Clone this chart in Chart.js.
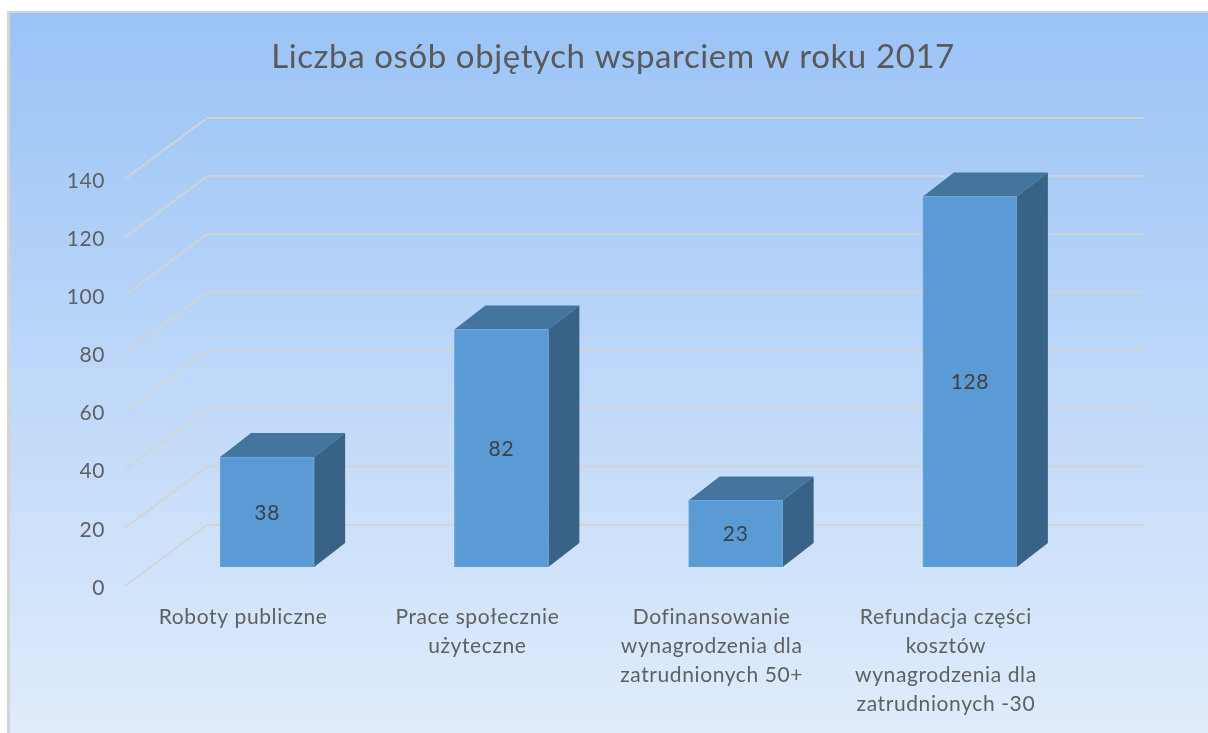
<!DOCTYPE html>
<html>
<head>
<meta charset="utf-8">
<style>html,body{margin:0;padding:0;background:#fff;overflow:hidden}canvas{display:block}</style>
<script src="https://cdn.jsdelivr.net/npm/chart.js@4"></script>
</head>
<body>
<div style="width:1208px;height:733px;position:relative"><canvas id="c"></canvas></div>
<script>
const titleText = 'Liczba osób objętych wsparciem w roku 2017';
const categories = [
  ['Roboty publiczne'],
  ['Prace społecznie', 'użyteczne'],
  ['Dofinansowanie', 'wynagrodzenia dla', 'zatrudnionych 50+'],
  ['Refundacja części', 'kosztów', 'wynagrodzenia dla', 'zatrudnionych -30']
];
const values = [38, 82, 23, 128];
const FONT = 'Lato';
const SPACING = '0.6px';
const depthX = 31, depthY = -24, wallX = 81, wallY = -61;

const scene = {
  id: 'scene',
  beforeLayout(chart) { chart.ctx.letterSpacing = SPACING; },
  beforeDraw(chart) {
    const { ctx, width, height } = chart;
    ctx.save();
    ctx.fillStyle = '#fff';
    ctx.fillRect(0, 0, width, height);
    ctx.fillStyle = '#d4d4d4';
    ctx.fillRect(7, 11, width - 7, height - 11);
    const g = ctx.createLinearGradient(0, 13, 0, height);
    g.addColorStop(0, '#9ac3f6');
    g.addColorStop(1, '#e0ecfb');
    ctx.fillStyle = g;
    ctx.fillRect(10, 13, width - 10, height - 13);
    ctx.restore();
    ctx.letterSpacing = SPACING;
  },
  beforeDatasetsDraw(chart) {
    const { ctx } = chart;
    const y = chart.scales.y, left = chart.chartArea.left;
    ctx.save();
    ctx.strokeStyle = 'rgba(212,212,212,0.92)';
    ctx.lineWidth = 2;
    y.ticks.forEach(t => {
      const py = y.getPixelForValue(t.value);
      ctx.beginPath();
      ctx.moveTo(left - 1, py);
      ctx.lineTo(left + wallX, py + wallY);
      ctx.lineTo(1144, py + wallY);
      ctx.stroke();
    });
    chart.getDatasetMeta(0).data.forEach(b => {
      const l = b.x - b.width / 2, r = b.x + b.width / 2;
      ctx.fillStyle = '#44759f';
      ctx.beginPath();
      ctx.moveTo(l, b.y);
      ctx.lineTo(l + depthX, b.y + depthY);
      ctx.lineTo(r + depthX, b.y + depthY);
      ctx.lineTo(r, b.y);
      ctx.closePath();
      ctx.fill();
      ctx.fillStyle = '#386387';
      ctx.beginPath();
      ctx.moveTo(r, b.y);
      ctx.lineTo(r + depthX, b.y + depthY);
      ctx.lineTo(r + depthX, b.base + depthY);
      ctx.lineTo(r, b.base);
      ctx.closePath();
      ctx.fill();
    });
    ctx.restore();
  },
  afterDatasetsDraw(chart) {
    const { ctx } = chart;
    ctx.save();
    ctx.font = '21px ' + FONT;
    ctx.fillStyle = '#404040';
    ctx.textAlign = 'center';
    ctx.textBaseline = 'middle';
    chart.getDatasetMeta(0).data.forEach((b, i) => {
      ctx.fillText(String(values[i]), b.x, (b.y + b.base) / 2 + 1);
    });
    ctx.restore();
  }
};

new Chart(document.getElementById('c'), {
  type: 'bar',
  data: {
    labels: categories,
    datasets: [{
      data: values.map((v, i) => ({ x: i, y: v })),
      xAxisID: 'xBar',
      yAxisID: 'yBar',
      backgroundColor: '#5b9bd5',
      borderColor: '#6aa6dd',
      borderWidth: 1,
      barThickness: 94,
      clip: false
    }]
  },
  options: {
    responsive: true,
    maintainAspectRatio: false,
    animation: false,
    layout: { padding: { left: 18, right: 0, top: 0, bottom: 0 } },
    plugins: {
      legend: { display: false },
      tooltip: { enabled: false },
      title: {
        display: true,
        text: titleText,
        color: '#595959',
        font: { family: FONT, size: 33, weight: 'normal', lineHeight: 1.2 },
        padding: { top: 38, bottom: 101.4 }
      }
    },
    scales: {
      x: {
        type: 'category',
        offset: true,
        grid: { display: false },
        border: { display: false },
        afterFit(s) { s.height = 147; },
        ticks: {
          autoSkip: false,
          maxRotation: 0,
          minRotation: 0,
          padding: 9,
          color: '#5f6062',
          font: { family: FONT, size: 21, lineHeight: 1.38 }
        }
      },
      xBar: { type: 'linear', display: false, offset: false, min: -0.6025, max: 3.3975 },
      y: {
        type: 'linear',
        position: 'left',
        min: 0,
        max: 140,
        afterFit(s) { s.width = 108; },
        grid: { display: false },
        border: { display: false },
        ticks: {
          stepSize: 20,
          padding: 13,
          labelOffset: 2,
          color: '#5f6062',
          font: { family: FONT, size: 21 }
        }
      },
      yBar: {
        type: 'linear',
        position: 'right',
        min: -6.56,
        max: 134.03,
        afterFit(s) { s.width = 145; },
        grid: { display: false },
        border: { display: false },
        ticks: { display: false }
      }
    }
  },
  plugins: [scene]
});
</script>
</body>
</html>
